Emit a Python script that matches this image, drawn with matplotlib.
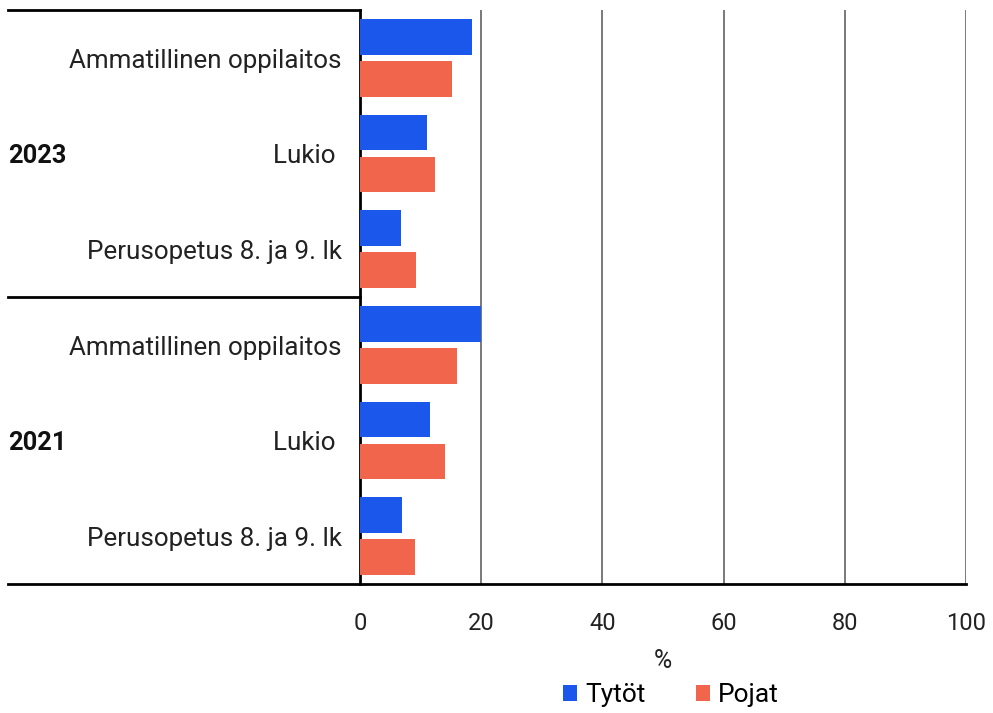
import matplotlib
matplotlib.use("Agg")
import matplotlib.pyplot as plt
from matplotlib.lines import Line2D
import numpy as np

plt.rcParams['font.family'] = ['Roboto', 'DejaVu Sans']

years = ["2023", "2021"]
schools = ["Ammatillinen oppilaitos", "Lukio ", "Perusopetus 8. ja 9. lk"]
tytot = [18.5, 11.0, 6.7, 20.0, 11.6, 7.0]
pojat = [15.1, 12.4, 9.3, 16.0, 14.0, 9.1]
series_names = ["Tytöt", "Pojat"]
colors = ["#1B57EB", "#F2654D"]
xticks = [0, 20, 40, 60, 80, 100]

W, H = 993, 713
fig = plt.figure(figsize=(W / 100, H / 100), dpi=100)
L, R, T, B = 360, 966, 10, 584
ax = fig.add_axes([L / W, 1 - B / H, (R - L) / W, (B - T) / H])

n = len(tytot)
y = np.arange(n)
bh = 0.375
off = 0.22
ax.barh(y - off, tytot, height=bh, color=colors[0], label=series_names[0], zorder=3)
ax.barh(y + off, pojat, height=bh, color=colors[1], label=series_names[1], zorder=3)

ax.set_ylim(n - 0.5, -0.5)
ax.set_xlim(0, 100)
ax.set_xticks(xticks)
ax.set_xticklabels([str(t) for t in xticks], fontsize=17, color="#222222")
ax.tick_params(axis='x', length=0, pad=20)
ax.set_yticks([])
for v in xticks[1:]:
    ax.axvline(v, color="#555555", lw=1.1, zorder=1)
for s in ["top", "right"]:
    ax.spines[s].set_visible(False)
ax.spines["left"].set_linewidth(2)
ax.spines["bottom"].set_linewidth(2)
ax.spines["left"].set_color("black")
ax.spines["bottom"].set_color("black")

# category labels
labels = schools * len(years)
for i, lab in enumerate(labels):
    ax.text(-0.03, i + 0.03, lab, transform=ax.get_yaxis_transform(), ha="right", va="center",
            fontsize=18.7, color="#222222")

# year group labels
xl = -(L - 8) / (R - L)
for g, yr in enumerate(years):
    ax.text(xl, g * 3 + 1.03, yr, transform=ax.get_yaxis_transform(), ha="left", va="center",
            fontsize=18.3, fontweight="bold", color="#111111")

# separator lines
for yy in [1.0, 0.5, 0.0]:
    ax.add_line(Line2D([xl, 0], [yy, yy], transform=ax.transAxes, color="black", lw=2,
                       clip_on=False))

ax.set_xlabel("%", fontsize=18, color="#222222", labelpad=10)

leg = fig.legend(loc="center", bbox_to_anchor=(671 / W, 1 - 695 / H), ncol=2,
                 frameon=False, fontsize=19, handlelength=0.55, handleheight=0.55,
                 columnspacing=1.9, handletextpad=0.3)

fig.savefig("out.png", dpi=100)
